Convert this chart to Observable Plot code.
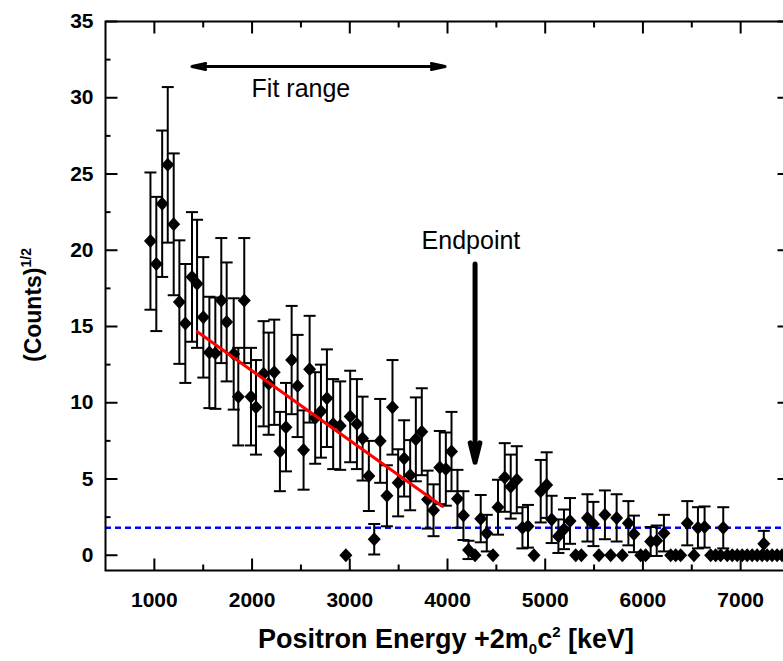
<!DOCTYPE html>
<html><head><meta charset="utf-8">
<script src="https://cdn.jsdelivr.net/npm/d3@7"></script>
<script src="https://cdn.jsdelivr.net/npm/@observablehq/plot@0.6"></script>
<style>
html,body{margin:0;padding:0;background:#fff;overflow:hidden;width:783px;height:661px;}
#chart{width:783px;height:661px;overflow:hidden;position:relative;}
#chart svg{max-width:none !important;}
</style></head><body><div id="chart"></div>
<script>
// ---- data ----
const energy = [960,1020,1080,1137,1198,1256,1317,1385,1437,1501,1563,1624,1685,1740,1812,1859,1920,1989,2040,2118,2170,2227,2285,2347,2405,2466,2527,2589,2646,2705,2766,2830,2902,2960,3004,3073,3131,3195,3250,3311,3380,3437,3495,3556,3618,3676,3737,3796,3857,3921,3983,4041,4102,4163,4215,4282,4340,4402,4466,4517,4586,4647,4709,4767,4824,4885,4954,5015,5066,5135,5192,5254,5312,5370,5432,5493,5550,5611,5670,5731,5789,5851,5908,5977,6028,6079,6141,6215,6284,6335,6386,6454,6522,6563,6631,6693,6744,6795,6822,6863,6914,6965,7016,7067,7118,7169,7220,7237,7271,7322,7373,7424];
const sqrtCounts = [20.6,19.1,23.05,25.6,21.7,16.6,15.2,18.25,17.8,15.6,13.3,13.25,16.7,15.3,13.2,10.4,16.7,10.4,9.7,11.9,11.25,12.0,6.8,8.4,12.8,11.1,6.9,12.2,9.0,9.45,10.3,8.6,8.5,0,9.1,8.6,7.65,5.2,1.05,7.5,3.9,9.7,4.75,6.35,5.25,7.6,8.1,3.65,2.95,5.75,5.65,6.8,3.7,2.6,0.35,0,2.4,1.45,0,3.15,5.1,4.5,4.95,1.8,1.9,0,4.2,4.6,2.35,1.25,1.7,2.25,0,0,2.45,2.05,0,2.65,0,2.45,0,2.1,1.4,0,0,0.9,0.95,1.45,0,0,0,2.1,0,1.8,1.85,0,0,0,1.8,0,0,0,0,0,0,0,0,0.75,0,0,0,0];
const errBar = [4.5,4.4,4.8,5.1,4.65,4.05,3.9,4.25,4.2,3.95,3.65,3.65,4.1,3.9,3.65,3.2,4.1,3.2,3.1,3.45,3.35,3.45,2.6,2.9,3.55,3.35,2.6,3.5,3.0,3.05,3.2,2.95,2.9,0,3.0,2.95,2.75,2.3,1.0,2.75,2.0,3.1,2.2,2.5,2.3,2.75,2.85,1.9,1.7,2.4,2.4,2.6,1.9,1.6,0.6,0,1.55,1.2,0,1.8,2.25,2.1,2.2,1.35,1.4,0,2.05,2.15,1.55,1.1,1.3,1.5,0,0,1.55,1.45,0,1.6,0,1.55,0,1.45,1.2,0,0,0.95,1.0,1.2,0,0,0,1.45,0,1.35,1.35,0,0,0,1.35,0,0,0,0,0,0,0,0,0.85,0,0,0,0];
const xTicks = [1000,2000,3000,4000,5000,6000,7000];
const xMinorTicks = [1500,2500,3500,4500,5500,6500];
const yTicks = [0,5,10,15,20,25,30,35];
const yMinorTicks = [2.5,7.5,12.5,17.5,22.5,27.5,32.5];
const xDomain = [500,7500];
const yDomain = [-1,35];
const fitX = [1440,3950];
const fitY = [14.65,3.2];
const backgroundLevel = 1.8;
const fitRangeX = [1385,3975];
const fitRangeY = 32.05;
const fitLabel = "Fit range";
const fitLabelPos = [2500,30.6];
const endpointLabel = "Endpoint";
const endpointLabelPos = [4240,20.6];
const endpointX = 4282;
const endpointY = [19.1,6.1];

// ---- build ----
const font = "'Liberation Sans', Arial, sans-serif";
const pts = energy.map((x,i)=>({x, y: sqrtCounts[i], e: errBar[i]}));
const bars = pts.filter(d=>d.e>0).map(d=>({x:d.x, lo:d.y-d.e, hi:d.y+d.e}));
const fitLine = fitX.map((x,i)=>({x, y: fitY[i]}));
const seg = (x1,y1,x2,y2)=>({draw(c){c.moveTo(x1,y1);c.lineTo(x2,y2);}});
const capSym = seg(-6,0,6,0);
const diamondSym = {draw(c){c.moveTo(0,-7);c.lineTo(6.5,0);c.lineTo(0,7);c.lineTo(-6.5,0);c.closePath();}};
const tickOpts = {fill:"none", stroke:"black", strokeWidth:2};
const fitMid = (fitRangeX[0]+fitRangeX[1])/2;

const plot = Plot.plot({
  width: 795, height: 661,
  marginLeft: 105, marginRight: 6, marginTop: 21, marginBottom: 91,
  style: {background:"#fff", fontFamily: font, color:"black", maxWidth:"none"},
  x: {domain: xDomain},
  y: {domain: yDomain},
  marks: [
    Plot.axisX({ticks: xTicks, tickFormat: d=>String(d), tickSize: 0, tickPadding: 22, fontSize: 21, fontWeight: "bold", label: null, fontFamily: font}),
    Plot.axisY({ticks: yTicks, tickFormat: d=>String(d), tickSize: 0, tickPadding: 12, fontSize: 21, fontWeight: "bold", label: null, fontFamily: font}),
    // inward ticks
    Plot.dot(xTicks, {x: d=>d, frameAnchor:"bottom", symbol: seg(0,0,0,-12), ...tickOpts}),
    Plot.dot(xMinorTicks, {x: d=>d, frameAnchor:"bottom", symbol: seg(0,0,0,-6), ...tickOpts}),
    Plot.dot(xTicks, {x: d=>d, frameAnchor:"top", symbol: seg(0,0,0,12), ...tickOpts}),
    Plot.dot(xMinorTicks, {x: d=>d, frameAnchor:"top", symbol: seg(0,0,0,6), ...tickOpts}),
    Plot.dot(yTicks, {y: d=>d, frameAnchor:"left", symbol: seg(0,0,12,0), ...tickOpts}),
    Plot.dot(yMinorTicks, {y: d=>d, frameAnchor:"left", symbol: seg(0,0,5,0), ...tickOpts}),
    Plot.dot(yTicks, {y: d=>d, frameAnchor:"right", symbol: seg(0,0,-12,0), ...tickOpts}),
    Plot.dot(yMinorTicks, {y: d=>d, frameAnchor:"right", symbol: seg(0,0,-5,0), ...tickOpts}),
    // background level
    Plot.ruleY([backgroundLevel], {stroke:"#0000ff", strokeWidth:2.5, strokeDasharray:"6,4"}),
    // error bars
    Plot.ruleX(bars, {x:"x", y1:"lo", y2:"hi", stroke:"black", strokeWidth:2}),
    Plot.dot(bars, {x:"x", y:"hi", symbol: capSym, ...tickOpts}),
    Plot.dot(bars, {x:"x", y:"lo", symbol: capSym, ...tickOpts}),
    // points
    Plot.dot(pts, {x:"x", y:"y", symbol: diamondSym, fill:"black", stroke:"none"}),
    // fit
    Plot.line(fitLine, {x:"x", y:"y", stroke:"#ff0000", strokeWidth:3}),
    // fit range arrow
    Plot.arrow(fitRangeX, {x1: ()=>fitMid, x2: d=>d, y1: ()=>fitRangeY, y2: ()=>fitRangeY, stroke:"black", strokeWidth:3, headLength:7, headAngle:25}),
    Plot.text([fitLabel], {x: ()=>fitLabelPos[0], y: ()=>fitLabelPos[1], text: d=>d, fontSize:25, fill:"black", fontFamily: font}),
    // endpoint arrow
    Plot.arrow([endpointX], {x1: d=>d, x2: d=>d, y1: ()=>endpointY[0], y2: ()=>endpointY[1], stroke:"black", strokeWidth:5, headLength:6, headAngle:28}),
    Plot.text([endpointLabel], {x: ()=>endpointLabelPos[0], y: ()=>endpointLabelPos[1], text: d=>d, fontSize:25, fill:"black", fontFamily: font}),
    Plot.frame({stroke:"black", strokeWidth:2})
  ]
});

const svg = d3.select(plot);
svg.style("max-width","none");
// y title
const yt = svg.append("text")
  .attr("transform","translate(41,305) rotate(-90)")
  .attr("text-anchor","middle")
  .attr("font-family", font).attr("font-weight","bold").attr("font-size",23).attr("fill","black");
yt.append("tspan").text("(Counts)");
yt.append("tspan").attr("font-size",14).attr("dy",-10).text("1/2");
// x title
const xt = svg.append("text")
  .attr("x",446).attr("y",648)
  .attr("text-anchor","middle")
  .attr("font-family", font).attr("font-weight","bold").attr("font-size",27).attr("fill","black");
xt.append("tspan").text("Positron Energy +2m");
xt.append("tspan").attr("font-size",15).attr("dy",6).text("0");
xt.append("tspan").attr("dy",-6).text("c");
xt.append("tspan").attr("font-size",15).attr("dy",-11).text("2");
xt.append("tspan").attr("dy",11).text(" [keV]");

document.getElementById("chart").appendChild(plot);
</script>
</body></html>
